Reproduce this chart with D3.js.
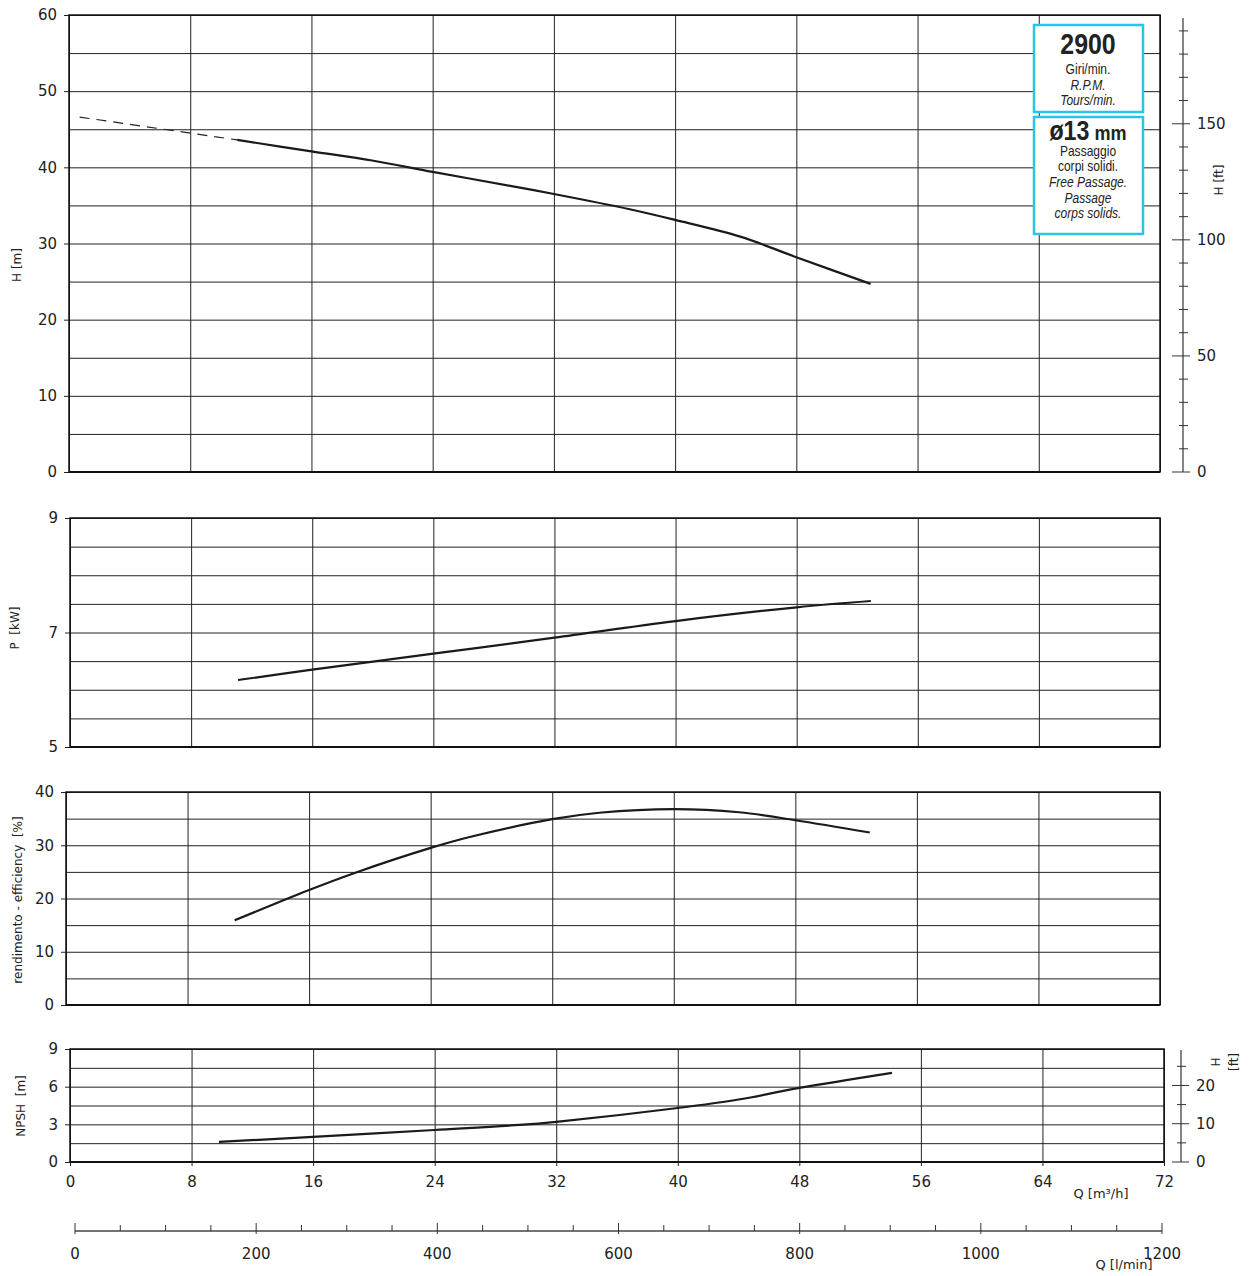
<!DOCTYPE html>
<html>
<head>
<meta charset="utf-8">
<script src="https://cdn.jsdelivr.net/npm/d3@7"></script>
<style>
  body { margin: 0; background: #fff; }
  text { font-family: 'DejaVu Sans', Verdana, sans-serif; fill: #222; }
  .narrow { font-family: 'Liberation Sans', Arial, sans-serif; }
</style>
</head>
<body>
<div id="chart"></div>
<script>
// flow ticks (m3/h) and l/min ticks
const qTicks = [0, 8, 16, 24, 32, 40, 48, 56, 64, 72];
const lminTicks = [0, 200, 400, 600, 800, 1000, 1200];

// head curve H [m]
const headQ = [11.1, 16, 20, 24, 29.3, 32, 37, 40, 44.3, 48, 52.9];
const headH = [43.6, 42.1, 40.9, 39.4, 37.5, 36.5, 34.5, 33.1, 30.9, 28.2, 24.7];
// dashed extension toward shut-off
const headDashQ = [0.7, 11.1];
const headDashH = [46.6, 43.6];

// power P [kW]
const powerQ = [11.1, 16, 24, 32, 40, 48, 52.9];
const powerP = [6.17, 6.35, 6.63, 6.91, 7.2, 7.44, 7.55];

// efficiency [%]
const effQ = [11.1, 16, 19, 24, 26.5, 32, 35.1, 40, 44.3, 48, 52.9];
const effE = [15.9, 21.6, 24.8, 29.5, 31.5, 34.9, 36.1, 36.8, 36.2, 34.7, 32.4];

// NPSH [m]
const npshQ = [9.8, 16, 24, 29.6, 32, 40, 44.1, 48, 54.1];
const npshN = [1.6, 2.0, 2.55, 2.95, 3.2, 4.3, 5.0, 5.9, 7.1];

const width = 1251;
const height = 1276;

var svg = d3.select('#chart')
  .append('svg')
  .attr('width', width)
  .attr('height', height);

function zip(xs, ys) {
  return xs.map(function(x, i) { return [x, ys[i]]; });
}

function panel(cfg) {
  var x = d3.scaleLinear().domain([0, 72]).range([cfg.left, cfg.right]);
  var y = d3.scaleLinear().domain(cfg.domain).range([cfg.bottom, cfg.top]);
  var g = svg.append('g');

  // horizontal grid
  g.append('g')
    .attr('transform', 'translate(' + cfg.left + ',0)')
    .call(d3.axisLeft(y).tickValues(d3.range(cfg.domain[0], cfg.domain[1] + 0.001, cfg.gridStep))
      .tickSize(-(cfg.right - cfg.left)).tickFormat(''))
    .call(function(a) {
      a.select('.domain').remove();
      a.selectAll('line').attr('stroke', '#222').attr('stroke-width', 1);
    });

  // vertical grid
  g.append('g')
    .attr('transform', 'translate(0,' + cfg.bottom + ')')
    .call(d3.axisBottom(x).tickValues(qTicks).tickSize(-(cfg.bottom - cfg.top)).tickFormat(''))
    .call(function(a) {
      a.select('.domain').remove();
      a.selectAll('line').attr('stroke', '#222').attr('stroke-width', 1);
    });

  // left tick labels
  g.append('g')
    .attr('transform', 'translate(' + cfg.left + ',0)')
    .call(d3.axisLeft(y).tickValues(cfg.labels).tickSize(5).tickPadding(7).tickFormat(d3.format('d')))
    .call(function(a) {
      a.select('.domain').remove();
      a.selectAll('line').attr('stroke', '#222');
      a.selectAll('text').style('font-size', '15px').attr('fill', '#222')
        .style('font-family', "'DejaVu Sans', Verdana, sans-serif");
    });

  // frame
  g.append('rect')
    .attr('x', cfg.left).attr('y', cfg.top)
    .attr('width', cfg.right - cfg.left).attr('height', cfg.bottom - cfg.top)
    .attr('fill', 'none').attr('stroke', '#111').attr('stroke-width', 1.5);
  g.append('line')
    .attr('x1', cfg.left).attr('x2', cfg.right)
    .attr('y1', cfg.bottom).attr('y2', cfg.bottom)
    .attr('stroke', '#111').attr('stroke-width', 2);

  // axis title
  g.append('text')
    .attr('transform', 'translate(' + cfg.titleX + ',' + cfg.titleY + ') rotate(-90)')
    .attr('text-anchor', 'middle')
    .style('font-size', '12px')
    .style('white-space', 'pre')
    .text(cfg.title);

  return { x: x, y: y, g: g };
}

var line = function(p) {
  return d3.line().curve(d3.curveCatmullRom)
    .x(function(d) { return p.x(d[0]); })
    .y(function(d) { return p.y(d[1]); });
};

// ---- H panel
var p1 = panel({ left: 69, right: 1160, top: 15, bottom: 472, domain: [0, 60], gridStep: 5,
  labels: [0, 10, 20, 30, 40, 50, 60], title: 'H [m]', titleX: 21, titleY: 265 });

p1.g.append('path')
  .attr('d', line(p1)(zip(headDashQ, headDashH)))
  .attr('fill', 'none').attr('stroke', '#222').attr('stroke-width', 1.2)
  .attr('stroke-dasharray', '10,7');
p1.g.append('path')
  .attr('d', line(p1)(zip(headQ, headH)))
  .attr('fill', 'none').attr('stroke', '#1a1a1a').attr('stroke-width', 2.2);

// H [ft] axis
var yFt = d3.scaleLinear().domain([0, 60 / 0.3048]).range([472, 15]);
var ftAxis = svg.append('g');
ftAxis.append('line').attr('x1', 1183).attr('x2', 1183)
  .attr('y1', yFt(0)).attr('y2', 18).attr('stroke', '#333').attr('stroke-width', 1.2);
ftAxis.selectAll('.minor').data(d3.range(0, 200, 10)).enter().append('line')
  .attr('x1', function(d) { return d % 50 === 0 ? 1172 : 1179; })
  .attr('x2', function(d) { return d % 50 === 0 ? 1190 : 1188; })
  .attr('y1', function(d) { return yFt(d); })
  .attr('y2', function(d) { return yFt(d); })
  .attr('stroke', '#333').attr('stroke-width', 1);
ftAxis.selectAll('.lbl').data([0, 50, 100, 150]).enter().append('text')
  .attr('x', 1197).attr('y', function(d) { return yFt(d); })
  .attr('dy', '0.35em').style('font-size', '15px')
  .text(function(d) { return d; });
ftAxis.append('text')
  .attr('transform', 'translate(1223,180) rotate(-90)')
  .attr('text-anchor', 'middle').style('font-size', '12px').text('H [ft]');

// info boxes
var boxes = svg.append('g');
boxes.append('rect').attr('x', 1034).attr('y', 25).attr('width', 109).attr('height', 87)
  .attr('fill', '#fff').attr('stroke', '#29c5e6').attr('stroke-width', 2.5);
boxes.append('rect').attr('x', 1034).attr('y', 117).attr('width', 109).attr('height', 117)
  .attr('fill', '#fff').attr('stroke', '#29c5e6').attr('stroke-width', 2.5);

var boxText = [
  { t: '2900', y: 54, size: 29, bold: true, italic: false },
  { t: 'Giri/min.', y: 74, size: 14, bold: false, italic: false },
  { t: 'R.P.M.', y: 90, size: 14, bold: false, italic: true },
  { t: 'Tours/min.', y: 105, size: 14, bold: false, italic: true },
  { t: 'Passaggio', y: 156, size: 14, bold: false, italic: false },
  { t: 'corpi solidi.', y: 171, size: 14, bold: false, italic: false },
  { t: 'Free Passage.', y: 187, size: 14, bold: false, italic: true },
  { t: 'Passage', y: 203, size: 14, bold: false, italic: true },
  { t: 'corps solids.', y: 218, size: 14, bold: false, italic: true }
];
boxes.selectAll('.bt').data(boxText).enter().append('text')
  .attr('class', 'narrow')
  .attr('transform', function(d) { return 'translate(1088,' + d.y + ') scale(0.86,1)'; })
  .attr('text-anchor', 'middle')
  .style('font-size', function(d) { return d.size + 'px'; })
  .style('font-weight', function(d) { return d.bold ? 'bold' : 'normal'; })
  .style('font-style', function(d) { return d.italic ? 'italic' : 'normal'; })
  .text(function(d) { return d.t; });
var dia = boxes.append('text').attr('class', 'narrow')
  .attr('transform', 'translate(1088,140) scale(0.86,1)').attr('text-anchor', 'middle')
  .style('font-weight', 'bold');
dia.append('tspan').style('font-size', '27px').text('ø13');
dia.append('tspan').style('font-size', '21px').text(' mm');

// ---- P panel
var p2 = panel({ left: 70, right: 1160, top: 518, bottom: 747, domain: [5, 9], gridStep: 0.5,
  labels: [5, 7, 9], title: 'P  [kW]', titleX: 19, titleY: 628 });
p2.g.append('path')
  .attr('d', line(p2)(zip(powerQ, powerP)))
  .attr('fill', 'none').attr('stroke', '#1a1a1a').attr('stroke-width', 2.2);

// ---- efficiency panel
var p3 = panel({ left: 66, right: 1160, top: 792, bottom: 1005, domain: [0, 40], gridStep: 5,
  labels: [0, 10, 20, 30, 40], title: 'rendimento - efficiency  [%]', titleX: 22, titleY: 900 });
p3.g.append('path')
  .attr('d', line(p3)(zip(effQ, effE)))
  .attr('fill', 'none').attr('stroke', '#1a1a1a').attr('stroke-width', 2.2);

// ---- NPSH panel
var p4 = panel({ left: 70, right: 1164, top: 1049, bottom: 1162, domain: [0, 9], gridStep: 1.5,
  labels: [0, 3, 6, 9], title: 'NPSH  [m]', titleX: 25, titleY: 1106 });
p4.g.append('path')
  .attr('d', line(p4)(zip(npshQ, npshN)))
  .attr('fill', 'none').attr('stroke', '#1a1a1a').attr('stroke-width', 2.2);

// Q [m3/h] labels
svg.append('g')
  .attr('transform', 'translate(0,1162)')
  .call(d3.axisBottom(p4.x).tickValues(qTicks).tickSize(4).tickPadding(10))
  .call(function(a) {
    a.select('.domain').remove();
    a.selectAll('line').attr('stroke', '#222');
    a.selectAll('text').style('font-size', '15px').attr('fill', '#222')
      .style('font-family', "'DejaVu Sans', Verdana, sans-serif");
  });
svg.append('text').attr('x', 1101).attr('y', 1198).attr('text-anchor', 'middle')
  .style('font-size', '13px').text('Q [m³/h]');

// NPSH H [ft] axis
var yFt2 = d3.scaleLinear().domain([0, 9 / 0.3048]).range([1162, 1049]);
var ft2 = svg.append('g');
ft2.append('line').attr('x1', 1181).attr('x2', 1181)
  .attr('y1', yFt2(0)).attr('y2', 1050).attr('stroke', '#333').attr('stroke-width', 1.2);
ft2.selectAll('.t').data(d3.range(0, 30, 5)).enter().append('line')
  .attr('x1', function(d) { return d % 10 === 0 ? 1172 : 1177; })
  .attr('x2', function(d) { return d % 10 === 0 ? 1189 : 1186; })
  .attr('y1', function(d) { return yFt2(d); })
  .attr('y2', function(d) { return yFt2(d); })
  .attr('stroke', '#333').attr('stroke-width', 1);
ft2.selectAll('.l').data([0, 10, 20]).enter().append('text')
  .attr('x', 1196).attr('y', function(d) { return yFt2(d); })
  .attr('dy', '0.35em').style('font-size', '15px')
  .text(function(d) { return d; });
ft2.append('text').attr('transform', 'translate(1220,1062) rotate(-90)')
  .attr('text-anchor', 'middle').style('font-size', '12px').text('H');
ft2.append('text').attr('transform', 'translate(1238,1062) rotate(-90)')
  .attr('text-anchor', 'middle').style('font-size', '12px').text('[ft]');

// Q [l/min] axis
var xL = d3.scaleLinear().domain([0, 1200]).range([75, 1162]);
var lAxis = svg.append('g').attr('transform', 'translate(0,1231)');
lAxis.append('line').attr('x1', xL(0)).attr('x2', xL(1200))
  .attr('stroke', '#444').attr('stroke-width', 1.5);
lAxis.selectAll('.t').data(d3.range(0, 1201, 50)).enter().append('line')
  .attr('x1', function(d) { return xL(d); }).attr('x2', function(d) { return xL(d); })
  .attr('y1', function(d) { return d % 200 === 0 ? -8 : -6; })
  .attr('y2', function(d) { return d % 200 === 0 ? 3 : 0; })
  .attr('stroke', '#333').attr('stroke-width', 1);
lAxis.selectAll('.l').data(lminTicks).enter().append('text')
  .attr('x', function(d) { return xL(d); }).attr('y', 28)
  .attr('text-anchor', 'middle').style('font-size', '15px')
  .text(function(d) { return d; });
svg.append('text').attr('x', 1124).attr('y', 1269).attr('text-anchor', 'middle')
  .style('font-size', '13px').text('Q [l/min]');
</script>
</body>
</html>
